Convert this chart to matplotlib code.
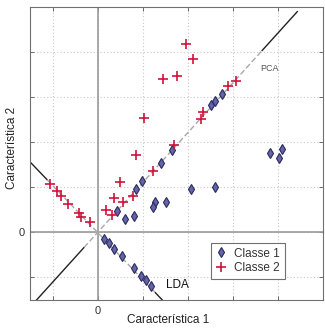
import matplotlib
matplotlib.use("Agg")
import matplotlib.pyplot as plt
import numpy as np

plt.rcParams['font.family'] = ['Liberation Sans', 'DejaVu Sans']

# Classe 1 (blue diamonds)
c1_x = [3.82, 4.10, 4.03, 2.07, 2.60, 1.27, 1.22, 1.52, 0.44, 0.61, 0.81, 0.86, 0.99,
        1.40, 1.66, 2.52, 2.60, 2.77,
        0.15, 0.26, 0.37, 0.53, 0.81, 0.96, 1.08, 1.19]
c1_y = [1.76, 1.86, 1.65, 0.96, 1.01, 0.68, 0.57, 0.68, 0.47, 0.30, 0.36, 0.96, 1.14,
        1.55, 1.83, 2.82, 2.93, 3.08,
        -0.14, -0.24, -0.36, -0.53, -0.78, -0.96, -1.05, -1.18]

# Classe 2 (red plus)
c2_x = [1.97, 2.11, 1.44, 1.76, 1.04, 0.86, 1.23, 0.49, 0.36, 0.56, 0.79, 0.19, 0.33,
        1.70, 2.29, 2.33, 2.90, 3.07,
        -1.05, -0.91, -0.81, -0.65, -0.41, -0.36, -0.17]
c2_y = [4.19, 3.86, 3.41, 3.47, 2.54, 1.73, 1.36, 1.13, 0.77, 0.67, 0.82, 0.50, 0.39,
        1.95, 2.53, 2.67, 3.25, 3.36,
        1.07, 0.93, 0.82, 0.64, 0.44, 0.35, 0.24]

# Projection directions (slopes) and extents along x
pca_slope = 1.107
pca_solid_lo = (-1.36, -0.30)
pca_dash = (-0.30, 3.65)
pca_solid_hi = (3.65, 4.43)

lda_slope = -1.045
lda_solid_lo = (-1.5, -1.12)
lda_dash = (-1.12, 1.28)
lda_solid_hi = (1.28, 1.44)

ticks = [-1, 0, 1, 2, 3, 4]
tick_labels = ['', '0', '', '', '', '']

fig = plt.figure(figsize=(3.25, 3.3), dpi=100)
ax = fig.add_axes([30/325, 30/330, 293/325, 292.7/330])

ax.set_xlim(-1.5, 5.0)
ax.set_ylim(-1.5, 5.0)

ax.set_xticks(ticks)
ax.set_yticks(ticks)
ax.set_xticklabels(tick_labels, fontsize=8, color='#333333')
ax.set_yticklabels(tick_labels, fontsize=8, color='#333333')
ax.grid(True, linestyle=(0, (1, 2)), color='#c8c8c8', linewidth=0.8)
ax.set_axisbelow(True)
ax.tick_params(direction='in', length=3, width=0.6, color='#555555',
               top=True, right=True, pad=4)
for s in ax.spines.values():
    s.set_color('#707070')
    s.set_linewidth(0.8)

ax.axhline(0, color='#9a9a9a', linewidth=1.2, zorder=1)
ax.axvline(0, color='#9a9a9a', linewidth=1.2, zorder=1)

def seg(slope, rng, **kw):
    xs = np.array(rng)
    ax.plot(xs, slope * xs, **kw)

for rng in (pca_solid_lo, pca_solid_hi):
    seg(pca_slope, rng, color='#222222', linewidth=1.0, zorder=2)
seg(pca_slope, pca_dash, color='#a8a8a8', linewidth=1.0, linestyle=(0, (4, 2)), zorder=2)
for rng in (lda_solid_lo, lda_solid_hi):
    seg(lda_slope, rng, color='#222222', linewidth=1.0, zorder=2)
seg(lda_slope, lda_dash, color='#a8a8a8', linewidth=1.0, linestyle=(0, (4, 2)), zorder=2)

ax.plot(c1_x, c1_y, linestyle='none', marker='d', markersize=4.6,
        markerfacecolor='#6464a8', markeredgecolor='#2a2a60', markeredgewidth=0.8,
        label='Classe 1', zorder=3)
ax.plot(c2_x, c2_y, linestyle='none', marker='+', markersize=7,
        markeredgecolor='#d0143c', markeredgewidth=1.2, label='Classe 2', zorder=3)

ax.text(3.82, 3.63, 'PCA', fontsize=6.5, color='#555555', ha='center', va='center')
ax.text(1.77, -1.16, 'LDA', fontsize=8.5, color='#111111', ha='center', va='center')

leg = ax.legend(loc='lower left', bbox_to_anchor=(0.6172, 0.073, 0.3, 0.14),
                fontsize=8.5, frameon=True, fancybox=False, framealpha=1,
                edgecolor='#707070', handlelength=1.0, handletextpad=0.6,
                borderpad=0.4, labelspacing=0.2, borderaxespad=0)
leg.get_frame().set_linewidth(0.8)
for t in leg.get_texts():
    t.set_color('#333333')

fig.text(168/325, 1 - 320/330, 'Característica 1', fontsize=8.5, color='#222222',
         ha='center', va='center')
fig.text(12/325, 1 - 148/330, 'Característica 2', fontsize=8.5, color='#222222',
         ha='center', va='center', rotation=90)

fig.savefig('out.png', dpi=100)
